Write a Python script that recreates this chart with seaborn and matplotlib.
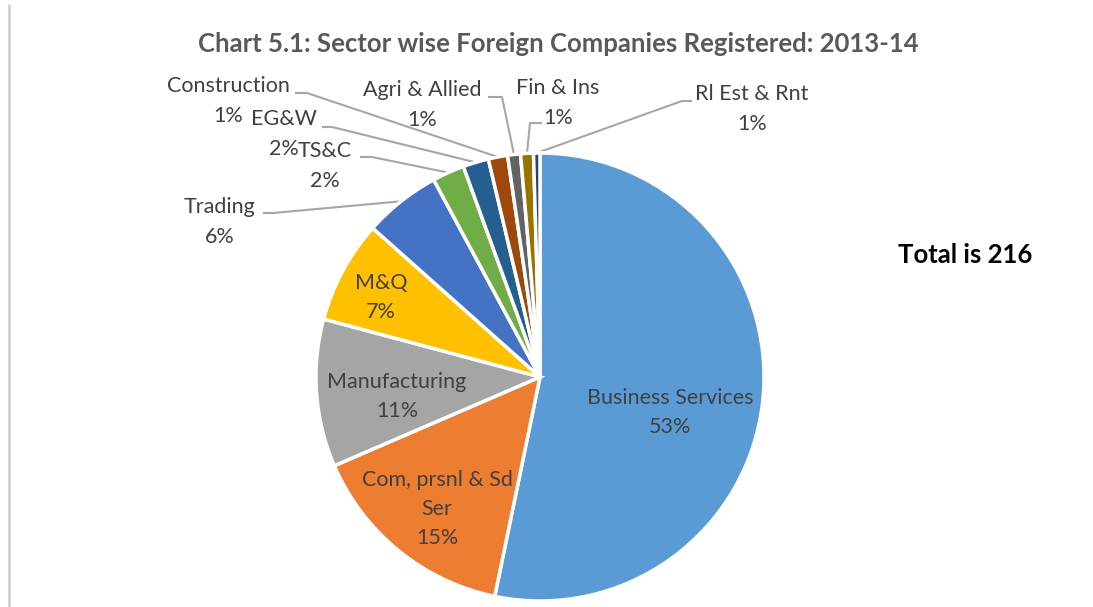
import numpy as np
import matplotlib
matplotlib.use("Agg")
import matplotlib.pyplot as plt
import seaborn as sns

# Sector wise foreign companies registered, 2013-14 (total 216)
sectors = ["Business Services", "Com, prsnl & Sd\nSer", "Manufacturing", "M&Q", "Trading",
           "TS&C", "EG&W", "Construction", "Agri & Allied", "Fin & Ins", "Rl Est & Rnt"]
counts = [115, 33, 23, 16, 12, 5, 4, 3, 2, 2, 1]
pct_labels = ["53%", "15%", "11%", "7%", "6%", "2%", "2%", "1%", "1%", "1%", "1%"]
sector_colors = ["#5B9BD5", "#ED7D31", "#A5A5A5", "#FFC000", "#4472C4", "#70AD47",
                 "#255E91", "#9E480E", "#636363", "#997300", "#264478"]

sns.set_theme(style="white")
plt.rcParams["font.family"] = ["Lato", "DejaVu Sans"]

W, H = 1093, 607
fig = plt.figure(figsize=(W / 100, H / 100), dpi=100)
ax = fig.add_axes([0, 0, 1, 1])


def py(y):
    # pixel row (from top) -> data y
    return H - y


cx, cy, r = 540, py(377), 224
palette = sns.color_palette(sector_colors)
wedges, _ = ax.pie(counts, colors=palette, startangle=90, counterclock=False,
                   center=(cx, cy), radius=r,
                   wedgeprops=dict(edgecolor="white", linewidth=2.5))
ax.set_xlim(0, W)
ax.set_ylim(0, H)
ax.set_aspect("equal")
ax.axis("off")

txt = "#404040"
fs = 15.5

# labels inside the slices: (x, y of first line)
inside = {0: (670, 398), 1: (437, 480), 2: (397, 382), 3: (381, 283)}
for i, (x, y) in inside.items():
    lines = sectors[i].split("\n") + [pct_labels[i]]
    for k, line in enumerate(lines):
        ax.text(x, py(y + 29 * k), line, ha="center", va="center", color=txt, fontsize=fs)

# labels outside with leader lines: label centre, stub start, stub end
outside = {
    4: ((220, 207), (263, 213), (273, 213)),
    5: ((325, 151), (360, 157), (372, 157)),
    6: ((284, 119), (322, 127), (332, 127)),
    7: ((228, 86), (295, 93), (307, 93)),
    8: ((422, 90), (488, 97), (502, 97)),
    9: ((558, 88), (542, 123), (530, 123)),
    10: ((752, 94), (692, 101), (682, 101)),
}
for i, ((lx, ly), s0, s1) in outside.items():
    ax.text(lx, py(ly), sectors[i], ha="center", va="center", color=txt, fontsize=fs)
    ax.text(lx, py(ly + 30), pct_labels[i], ha="center", va="center", color=txt, fontsize=fs)
    w = wedges[i]
    th = np.deg2rad((w.theta1 + w.theta2) / 2)
    ex, ey = cx + r * np.cos(th), cy + r * np.sin(th)
    ax.plot([s0[0], s1[0], ex], [py(s0[1]), py(s1[1]), ey], color="#A6A6A6", lw=1.5,
            solid_capstyle="butt", zorder=0)

ax.text(558, py(44), "Chart 5.1: Sector wise Foreign Companies Registered: 2013-14",
        ha="center", va="center", fontsize=18.5, fontweight="bold", color="#595959")
ax.text(965, py(255), "Total is 216", ha="center", va="center", fontsize=18.5,
        fontweight="bold", color="black")

# chart border remnant on the left
ax.plot([8.5, 8.5], [py(5), py(607)], color="#D0D0D0", lw=2)

fig.savefig("out.png", dpi=100)
